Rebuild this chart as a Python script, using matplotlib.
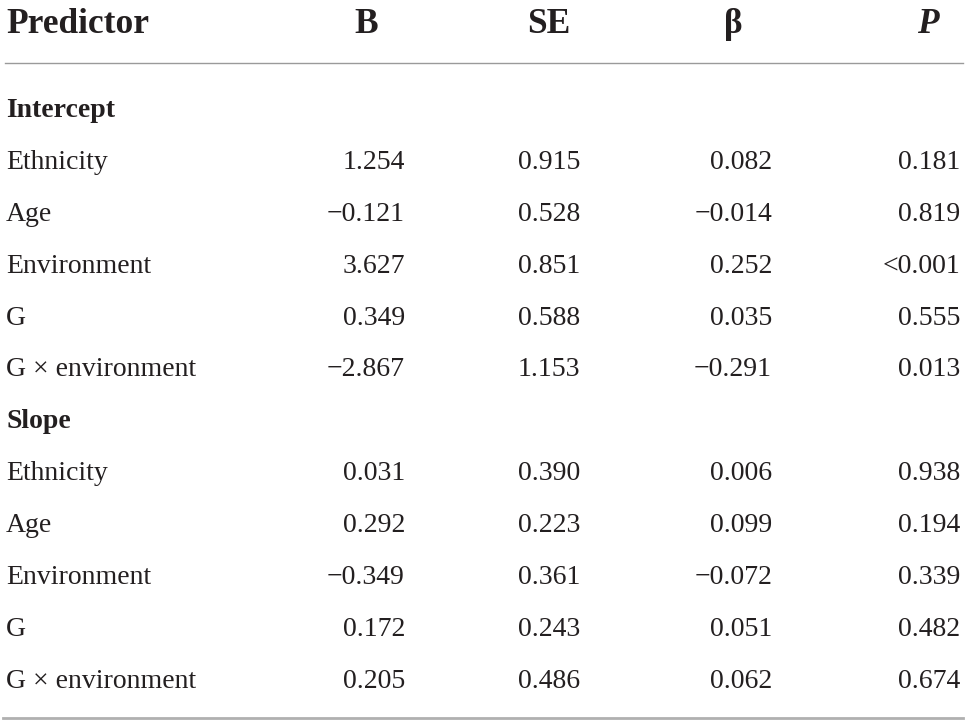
import matplotlib
matplotlib.use('Agg')
import matplotlib.pyplot as plt

headers = ['Predictor', 'B', 'SE', 'β', 'P']
sections = ['Intercept', 'Slope']
predictors = ['Ethnicity', 'Age', 'Environment', 'G', 'G × environment']
B = [['1.254', '−0.121', '3.627', '0.349', '−2.867'],
     ['0.031', '0.292', '−0.349', '0.172', '0.205']]
SE = [['0.915', '0.528', '0.851', '0.588', '1.153'],
      ['0.390', '0.223', '0.361', '0.243', '0.486']]
beta = [['0.082', '−0.014', '0.252', '0.035', '−0.291'],
        ['0.006', '0.099', '−0.072', '0.051', '0.062']]
P = [['0.181', '0.819', '<0.001', '0.555', '0.013'],
     ['0.938', '0.194', '0.339', '0.482', '0.674']]

W, H = 968, 725
fig = plt.figure(figsize=(W / 100, H / 100), dpi=100)
ax = fig.add_axes([0, 0, 1, 1])
ax.set_xlim(0, W)
ax.set_ylim(H, 0)
ax.axis('off')

font = 'Liberation Serif'
ink = '#231f20'
fs = 20
col_right = [405, 580, 772, 960]
head_x = [366, 549, 733, 928]

# header row, baseline ~33px
ax.text(6, 33, headers[0], fontsize=25.5, fontweight='bold', family=font, color=ink,
        va='baseline', ha='left')
for i, h in enumerate(headers[1:]):
    ax.text(head_x[i], 33, h, fontsize=25.5, fontweight='bold', family=font, color=ink,
            va='baseline', ha='center', style='italic' if h == 'P' else 'normal')
ax.plot([5, 963], [63, 63], color='#9a9a9a', lw=1.0)

y = 117
step = 51.9
for s, sec in enumerate(sections):
    ax.text(6, y, sec, fontsize=fs, fontweight='bold', family=font, color=ink, va='baseline', ha='left')
    y += step
    for r, name in enumerate(predictors):
        ax.text(6, y, name, fontsize=fs, family=font, color=ink, va='baseline', ha='left')
        for c, col in enumerate([B, SE, beta, P]):
            ax.text(col_right[c], y, col[s][r], fontsize=fs, family=font, color=ink,
                    va='baseline', ha='right')
        y += step

ax.plot([3, 963], [718, 718], color='#b0b0b0', lw=2.0)

fig.savefig('out.png', dpi=100)
